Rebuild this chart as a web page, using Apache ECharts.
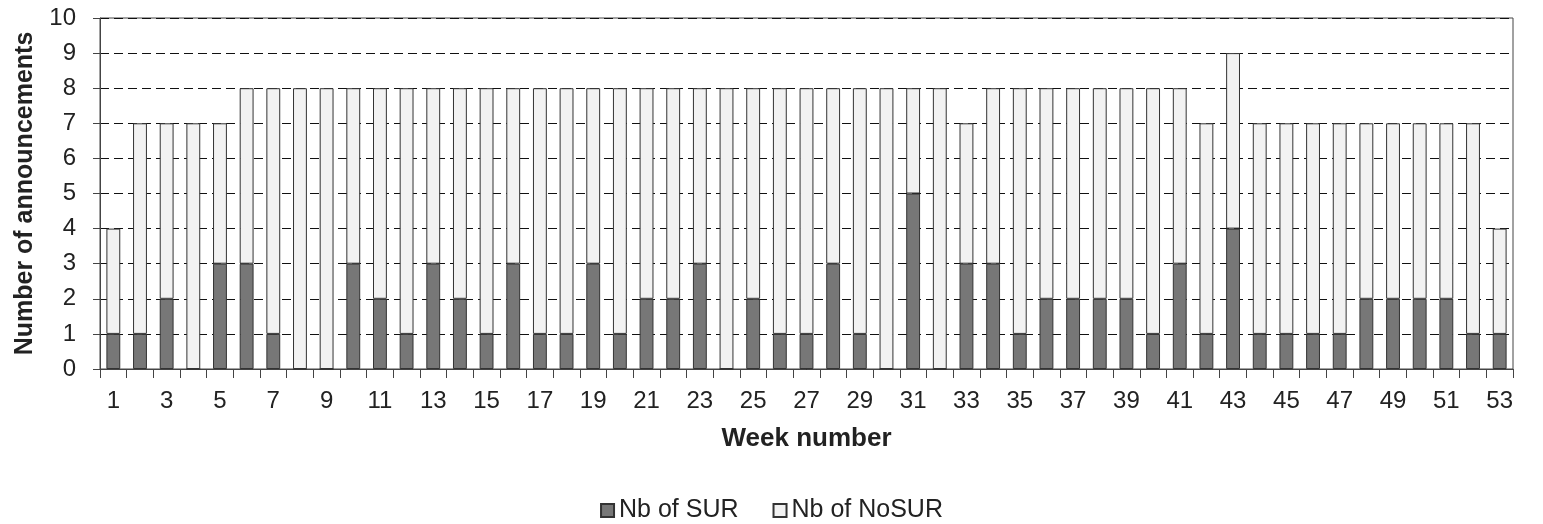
<!DOCTYPE html>
<html>
<head>
<meta charset="utf-8">
<script src="https://cdn.jsdelivr.net/npm/echarts@6/dist/echarts.min.js"></script>
<style>
  html, body { margin: 0; padding: 0; background: #fff; }
  #chart { width: 1543px; height: 524px; }
</style>
</head>
<body>
<div id="chart"></div>
<script>
// week numbers 1..53
const weeks = ['1','2','3','4','5','6','7','8','9','10','11','12','13','14','15','16','17','18','19','20',
  '21','22','23','24','25','26','27','28','29','30','31','32','33','34','35','36','37','38','39','40',
  '41','42','43','44','45','46','47','48','49','50','51','52','53'];

// Nb of SUR (dark part)
const surCounts = [1,1,2,0,3,3,1,0,0,3,2,1,3,2,1,3,1,1,3,1,2,2,3,0,2,1,1,3,1,0,
  5,0,3,3,1,2,2,2,2,1,3,1,4,1,1,1,1,2,2,2,2,1,1];

// Nb of NoSUR (light part, stacked on top)
const noSurCounts = [3,6,5,7,4,5,7,8,8,5,6,7,5,6,7,5,7,7,5,7,6,6,5,8,6,7,7,5,7,8,
  3,8,4,5,7,6,6,6,6,7,5,6,5,6,6,6,6,5,5,5,5,6,3];

const font = 'Liberation Sans, Arial, sans-serif';

const chart = echarts.init(document.getElementById('chart'));

const option = {
  animation: false,
  grid: {
    left: 100,
    right: 30,
    top: 18,
    bottom: 155,
    show: true,
    borderColor: '#444',
    borderWidth: 1
  },
  legend: {
    top: 493,
    left: 'center',
    itemWidth: 13,
    itemHeight: 13,
    itemGap: 34,
    icon: 'rect',
    textStyle: { fontFamily: font, fontSize: 25, color: '#222' },
    data: ['Nb of SUR', 'Nb of NoSUR']
  },
  xAxis: {
    type: 'category',
    data: weeks,
    name: 'Week number',
    nameLocation: 'middle',
    nameGap: 57,
    nameTextStyle: { fontFamily: font, fontSize: 26, fontWeight: 'bold', color: '#222' },
    axisLine: { lineStyle: { color: '#444', width: 1 } },
    axisTick: { show: true, interval: 0, length: 9, lineStyle: { color: '#444' } },
    axisLabel: { interval: 1, margin: 20, fontFamily: font, fontSize: 24, color: '#222' }
  },
  yAxis: {
    type: 'value',
    min: 0,
    max: 10,
    interval: 1,
    name: 'Number of announcements',
    nameLocation: 'middle',
    nameGap: 62,
    nameTextStyle: { fontFamily: font, fontSize: 25, fontWeight: 'bold', color: '#222' },
    axisLine: { show: true, lineStyle: { color: '#444', width: 1 } },
    axisTick: { show: true, length: 7, lineStyle: { color: '#444' } },
    axisLabel: { margin: 24, fontFamily: font, fontSize: 24, color: '#222' },
    splitLine: { show: true, lineStyle: { color: '#111', type: [9, 5], width: 1 } }
  },
  series: [
    {
      name: 'Nb of SUR',
      type: 'bar',
      stack: 'total',
      barWidth: '52%',
      data: surCounts,
      itemStyle: { color: '#777777', borderColor: '#333', borderWidth: 1 }
    },
    {
      name: 'Nb of NoSUR',
      type: 'bar',
      stack: 'total',
      barWidth: '52%',
      data: noSurCounts,
      itemStyle: { color: '#f2f2f2', borderColor: '#333', borderWidth: 1 }
    }
  ]
};

chart.setOption(option);
</script>
</body>
</html>
